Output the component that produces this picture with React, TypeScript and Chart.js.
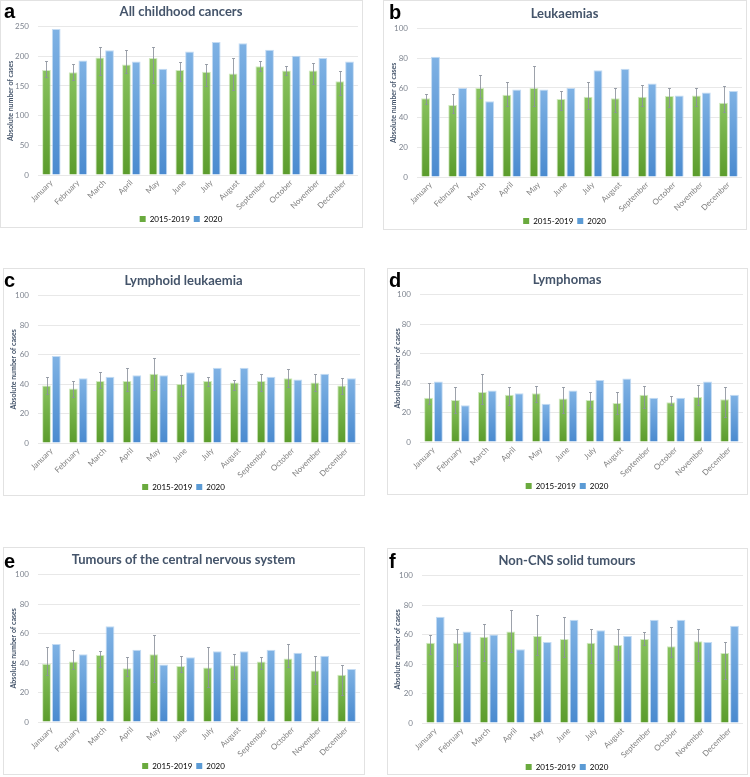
import React, { useEffect, useRef } from "react";
import { Chart, registerables } from "chart.js";
Chart.register(...registerables);

const months = ["January", "February", "March", "April", "May", "June", "July", "August", "September", "October", "November", "December"];
const seriesNames = ["2015-2019", "2020"];

// a: All childhood cancers
const allMean = [177, 173, 198, 186, 197, 177, 174, 171, 183, 176, 176, 158];
const allLow = [165, 160, 168, 172, 155, 159, 150, 144, 176, 168, 154, 134];
const allHigh = [192, 187, 216, 211, 216, 190, 187, 197, 192, 184, 188, 175];
const all2020 = [246, 193, 210, 191, 179, 208, 224, 222, 211, 201, 197, 191];

// b: Leukaemias
const leuMean = [53, 48.5, 60, 55.5, 60, 52.5, 54, 53, 54, 54.5, 55, 50];
const leuLow = [49, 43, 53, 48, 48, 45, 46, 44, 48, 47, 48, 44];
const leuHigh = [56, 56, 69, 64, 75, 58, 64, 60, 62, 60, 60, 61];
const leu2020 = [81, 60, 51, 59, 59, 60, 72, 73, 63, 55, 57, 58];

// c: Lymphoid leukaemia
const lymLeuMean = [39, 37, 42, 42, 47, 40, 42, 41, 42, 44, 41, 39];
const lymLeuLow = [33, 31, 37, 35, 36, 32, 39, 36, 35, 38, 35, 33];
const lymLeuHigh = [45, 42, 48, 51, 58, 46, 45, 43, 47, 50, 47, 44];
const lymLeu2020 = [59, 44, 45, 46, 46, 48, 51, 51, 45, 43, 47, 44];

// d: Lymphomas
const lymMean = [30, 28.5, 34, 32, 33, 29.5, 28.5, 26.5, 32, 27, 30.5, 29];
const lymLow = [26, 20, 26, 25, 27, 20, 23, 19, 23, 25, 25, 17];
const lymHigh = [40, 37, 46, 37, 38, 37, 34, 34, 38, 31, 39, 37];
const lym2020 = [41, 25, 35, 33, 26, 35, 42, 43, 30, 30, 41, 32];

// e: Tumours of the central nervous system
const cnsMean = [39.5, 41, 45.5, 36.5, 46, 38, 37, 38.5, 41, 43, 35, 32];
const cnsLow = [32, 36, 37, 31, 27, 34, 24, 29, 36, 37, 26, 18];
const cnsHigh = [51, 49, 48, 44, 59, 45, 51, 46, 44, 53, 45, 39];
const cns2020 = [53, 46, 65, 49, 39, 44, 48, 48, 49, 47, 45, 36];

// f: Non-CNS solid tumours
const solMean = [54.5, 54.5, 58.5, 62, 59, 57, 54.5, 53, 57, 52, 55.5, 47.5];
const solLow = [47, 39, 42, 48, 46, 45, 41, 43, 53, 45, 42, 30];
const solHigh = [60, 64, 67, 77, 73, 72, 64, 64, 62, 65, 64, 55];
const sol2020 = [72, 62, 60, 50, 55, 70, 63, 59, 70, 70, 55, 66];

const FONT = "Lato, 'Open Sans', sans-serif";
const CANVAS_H = 240;

type PanelCfg = {
  letter: string;
  title: string;
  mean: number[];
  low: number[];
  high: number[];
  y2020: number[];
  max: number;
  step: number;
  box: [number, number, number, number];
  plotLeft: number;
  plotBottom: number;
  titleTop: number;
  letterX: number;
  letterBase: number;
};

const panels: PanelCfg[] = [
  { letter: "a", title: "All childhood cancers", mean: allMean, low: allLow, high: allHigh, y2020: all2020, max: 250, step: 50, box: [0, 0, 363, 228], plotLeft: 38, plotBottom: 175, titleTop: 4, letterX: 4, letterBase: 18 },
  { letter: "b", title: "Leukaemias", mean: leuMean, low: leuLow, high: leuHigh, y2020: leu2020, max: 100, step: 20, box: [383, 0, 364, 230], plotLeft: 34, plotBottom: 177, titleTop: 6, letterX: 389, letterBase: 19 },
  { letter: "c", title: "Lymphoid leukaemia", mean: lymLeuMean, low: lymLeuLow, high: lymLeuHigh, y2020: lymLeu2020, max: 100, step: 20, box: [3, 268, 362, 228], plotLeft: 35, plotBottom: 175, titleTop: 5, letterX: 4, letterBase: 287 },
  { letter: "d", title: "Lymphomas", mean: lymMean, low: lymLow, high: lymHigh, y2020: lym2020, max: 100, step: 20, box: [387, 268, 361, 227], plotLeft: 33, plotBottom: 174, titleTop: 4, letterX: 389, letterBase: 287 },
  { letter: "e", title: "Tumours of the central nervous system", mean: cnsMean, low: cnsLow, high: cnsHigh, y2020: cns2020, max: 100, step: 20, box: [3, 547, 362, 228], plotLeft: 35, plotBottom: 175, titleTop: 5, letterX: 4, letterBase: 568 },
  { letter: "f", title: "Non-CNS solid tumours", mean: solMean, low: solLow, high: solHigh, y2020: sol2020, max: 100, step: 20, box: [387, 548, 361, 227], plotLeft: 35, plotBottom: 175, titleTop: 5, letterX: 389, letterBase: 568 },
];

function barGradient(top: string, bottom: string, solid: string) {
  return (c: any) => {
    const chart = c.chart;
    const ys = chart.scales && chart.scales.y;
    if (!ys || c.type !== "data" || !c.parsed) return solid;
    const t = ys.getPixelForValue(c.parsed.y);
    const b = ys.getPixelForValue(0);
    if (!isFinite(t) || !isFinite(b) || Math.abs(b - t) < 1) return solid;
    const g = chart.ctx.createLinearGradient(0, t, 0, b);
    g.addColorStop(0, top);
    g.addColorStop(1, bottom);
    return g;
  };
}

function Panel({ cfg }: { cfg: PanelCfg }) {
  const ref = useRef<HTMLCanvasElement>(null);
  useEffect(() => {
    const low = cfg.low;
    const high = cfg.high;
    const errorBars = {
      id: "errorBars",
      afterDatasetsDraw(chart: any) {
        const meta = chart.getDatasetMeta(0);
        const y = chart.scales.y;
        const ctx = chart.ctx;
        ctx.save();
        ctx.strokeStyle = "rgba(140,146,156,0.85)";
        ctx.lineWidth = 1;
        meta.data.forEach((bar: any, i: number) => {
          const x = Math.round(bar.x) + 0.5;
          const yh = Math.round(y.getPixelForValue(high[i])) + 0.5;
          const yl = Math.round(y.getPixelForValue(low[i])) + 0.5;
          ctx.beginPath();
          ctx.moveTo(x, yh);
          ctx.lineTo(x, yl);
          ctx.moveTo(x - 1.5, yh);
          ctx.lineTo(x + 1.5, yh);
          ctx.moveTo(x - 1.5, yl);
          ctx.lineTo(x + 1.5, yl);
          ctx.stroke();
        });
        ctx.restore();
      },
    };
    const legendH = 22;
    const xH = 36;
    const padBottom = CANVAS_H - cfg.plotBottom - xH - legendH;
    const chart = new Chart(ref.current as HTMLCanvasElement, {
      type: "bar",
      data: {
        labels: months,
        datasets: [
          {
            label: seriesNames[0],
            data: cfg.mean,
            backgroundColor: barGradient("#88c25e", "#5b9c2c", "#70b043"),
            borderColor: "rgba(190,225,165,0.7)",
            borderWidth: 1,
            categoryPercentage: 0.73,
            barPercentage: 0.9,
          },
          {
            label: seriesNames[1],
            data: cfg.y2020,
            backgroundColor: barGradient("#7fb2e4", "#4a8acf", "#5c9dd9"),
            borderColor: "rgba(180,210,240,0.8)",
            borderWidth: 1,
            categoryPercentage: 0.73,
            barPercentage: 0.9,
          },
        ],
      },
      options: {
        responsive: false,
        animation: false,
        layout: { padding: { top: cfg.titleTop, left: 4, right: 5, bottom: padBottom } },
        plugins: {
          title: {
            display: true,
            text: cfg.title,
            color: "#44546a",
            font: { family: FONT, size: 13, weight: "bold", lineHeight: 1.2 },
            padding: { top: 0, bottom: 7 },
          },
          legend: {
            display: true,
            position: "bottom",
            labels: {
              boxWidth: 6,
              boxHeight: 6,
              padding: 4,
              color: "#595959",
              font: { family: FONT, size: 8 },
              generateLabels: () => [
                { text: seriesNames[0], fillStyle: "#6aaa3e", strokeStyle: "#6aaa3e", lineWidth: 0, hidden: false, datasetIndex: 0 },
                { text: seriesNames[1], fillStyle: "#5b9bd5", strokeStyle: "#5b9bd5", lineWidth: 0, hidden: false, datasetIndex: 1 },
              ],
            },
          },
          tooltip: { enabled: false },
        },
        scales: {
          x: {
            grid: { display: false, drawTicks: false },
            border: { display: false },
            ticks: {
              autoSkip: false,
              minRotation: 45,
              maxRotation: 45,
              padding: 3,
              color: "#7f7f7f",
              font: { family: FONT, size: 8 },
            },
            afterFit: (s: any) => {
              s.height = xH;
              s.paddingLeft = 0;
              s.paddingRight = 0;
            },
          },
          y: {
            min: 0,
            max: cfg.max,
            grid: { color: "#e8e8e8", drawTicks: false, lineWidth: 1 },
            border: { display: false },
            ticks: {
              stepSize: cfg.step,
              padding: 9,
              color: "#7f8590",
              font: { family: FONT, size: 8 },
            },
            title: {
              display: true,
              text: "Absolute number of cases",
              color: "#44546a",
              font: { family: FONT, size: 7, weight: "bold", lineHeight: 1.2 },
              padding: { top: 3, bottom: 0 },
            },
            afterFit: (s: any) => {
              s.width = cfg.plotLeft - 4;
              s.paddingTop = 0;
              s.paddingBottom = 0;
            },
          },
        },
      },
      plugins: [errorBars],
    } as any);
    return () => chart.destroy();
  }, [cfg]);

  const [left, top, w, h] = cfg.box;
  return (
    <>
      <div
        style={{
          position: "absolute",
          left,
          top,
          width: w,
          height: h,
          border: "1px solid #e2e2e2",
          boxSizing: "border-box",
          background: "#fff",
        }}
      />
      <div style={{ position: "absolute", left, top, width: w, height: CANVAS_H }}>
        <canvas ref={ref} width={w} height={CANVAS_H} style={{ display: "block", width: w, height: CANVAS_H }} />
      </div>
      <span
        style={{
          position: "absolute",
          left: cfg.letterX,
          top: cfg.letterBase - 17,
          font: "bold 20px 'Liberation Sans', Arial, sans-serif",
          lineHeight: "20px",
          color: "#000",
        }}
      >
        {cfg.letter}
      </span>
    </>
  );
}

export default function App() {
  return (
    <div style={{ position: "absolute", left: 0, top: 0, width: 750, height: 777, background: "#fff", overflow: "hidden" }}>
      {panels.map((p) => (
        <Panel key={p.letter} cfg={p} />
      ))}
    </div>
  );
}
